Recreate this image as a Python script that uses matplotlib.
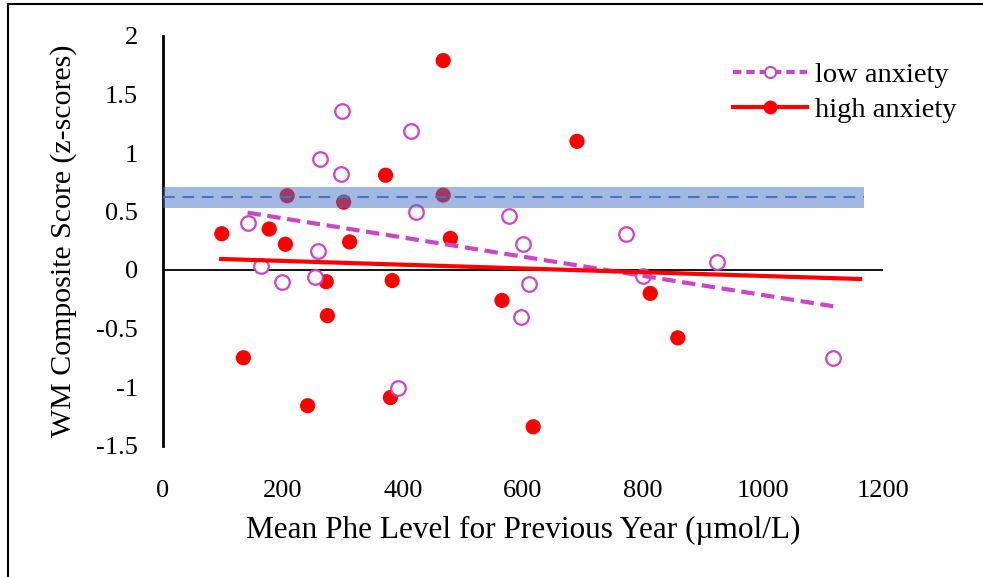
import matplotlib
matplotlib.use('Agg')
import matplotlib.pyplot as plt
from matplotlib.lines import Line2D

# Working-memory composite vs. mean Phe level, split by anxiety group
low_phe = [141, 164, 199, 253, 259, 261, 297, 298, 392, 413, 422,
           577, 596, 600, 610, 771, 800, 923, 1117]
low_wm = [0.40, 0.03, -0.10, -0.06, 0.16, 0.95, 0.82, 1.36, -1.01, 1.19, 0.50,
          0.46, -0.40, 0.22, -0.12, 0.31, -0.05, 0.07, -0.75]

high_phe = [98, 134, 177, 204, 207, 241, 272, 274, 301, 311, 371,
            379, 382, 467, 467, 479, 565, 617, 690, 812, 858]
high_wm = [0.31, -0.75, 0.35, 0.22, 0.635, -1.16, -0.10, -0.39, 0.58, 0.24, 0.81,
           -1.09, -0.09, 1.79, 0.64, 0.27, -0.26, -1.34, 1.10, -0.20, -0.58]

# linear trend endpoints for each group
low_fit_x = [141, 1117]
low_fit_y = [0.49, -0.31]
high_fit_x = [97, 1162]
high_fit_y = [0.094, -0.077]

# reference mean with shaded range
ref_x = [0, 1168]
ref_mean = 0.62
ref_lo, ref_hi = 0.53, 0.71

x_ticks = [0, 200, 400, 600, 800, 1000, 1200]
y_ticks = [-1.5, -1, -0.5, 0, 0.5, 1, 1.5, 2]

LOW_C = '#CC44C8'
HIGH_C = '#FF0000'
BLUE = '#4472C4'

plt.rcParams['font.family'] = ['Liberation Serif', 'DejaVu Serif']

fig = plt.figure(figsize=(9.83, 5.77), dpi=100)
ax = fig.add_axes([163 / 983, 131.5 / 577, 720 / 983, 409.5 / 577])

ax.scatter(high_phe, high_wm, s=120, color=HIGH_C, edgecolors='none', zorder=3)
ax.scatter(low_phe, low_wm, s=110, facecolors='white', edgecolors=LOW_C,
           linewidths=1.6, zorder=3)

ax.plot(low_fit_x, low_fit_y, color=LOW_C, lw=3.0, dashes=(3.2, 1.6),
        solid_capstyle='butt', zorder=4)
ax.plot(high_fit_x, high_fit_y, color=HIGH_C, lw=3.0, zorder=4)

ax.fill_between(ref_x, ref_lo, ref_hi, color=BLUE, alpha=0.5, lw=0, zorder=5)
ax.plot(ref_x, [ref_mean, ref_mean], color=BLUE, lw=1.4, dashes=(6, 4), zorder=6)

ax.axhline(0, color='black', lw=1.3, zorder=2)

ax.set_xlim(0, 1200)
ax.set_ylim(-1.5, 2)
ax.set_xticks(x_ticks)
ax.set_xticklabels([str(t) for t in x_ticks])
ax.set_yticks(y_ticks)
ax.set_yticklabels(['{:g}'.format(t) for t in y_ticks])
ax.tick_params(axis='both', length=0, labelsize=19)
ax.tick_params(axis='x', pad=25)
ax.tick_params(axis='y', pad=18)

for side in ['top', 'right', 'bottom']:
    ax.spines[side].set_visible(False)
ax.spines['left'].set_linewidth(2)

ax.set_xlabel('Mean Phe Level for Previous Year (\u00b5mol/L)', fontsize=22.5, labelpad=10)
ax.set_ylabel('WM Composite Score (z-scores)', fontsize=21.5, labelpad=14)

handles = [
    Line2D([], [], color=LOW_C, lw=3, dashes=(2, 1.2), marker='o', markersize=8,
           markerfacecolor='white', markeredgecolor=LOW_C, markeredgewidth=1.5),
    Line2D([], [], color=HIGH_C, lw=3, marker='o', markersize=9,
           markerfacecolor=HIGH_C, markeredgecolor=HIGH_C),
]
fig.legend(handles, ['low anxiety', 'high anxiety'], loc='upper left',
           bbox_to_anchor=(722 / 983, 1 - 51 / 577), frameon=False, fontsize=20.5,
           handlelength=2.6, handletextpad=0.25, labelspacing=0.3, borderaxespad=0)

# outer frame along the top and left edges
fig.add_artist(Line2D([8 / 983, 8 / 983], [0, 1 - 4 / 577], color='black', lw=1.5))
fig.add_artist(Line2D([8 / 983, 1], [1 - 4 / 577, 1 - 4 / 577], color='black', lw=1.5))

fig.savefig('out.png', dpi=100)
